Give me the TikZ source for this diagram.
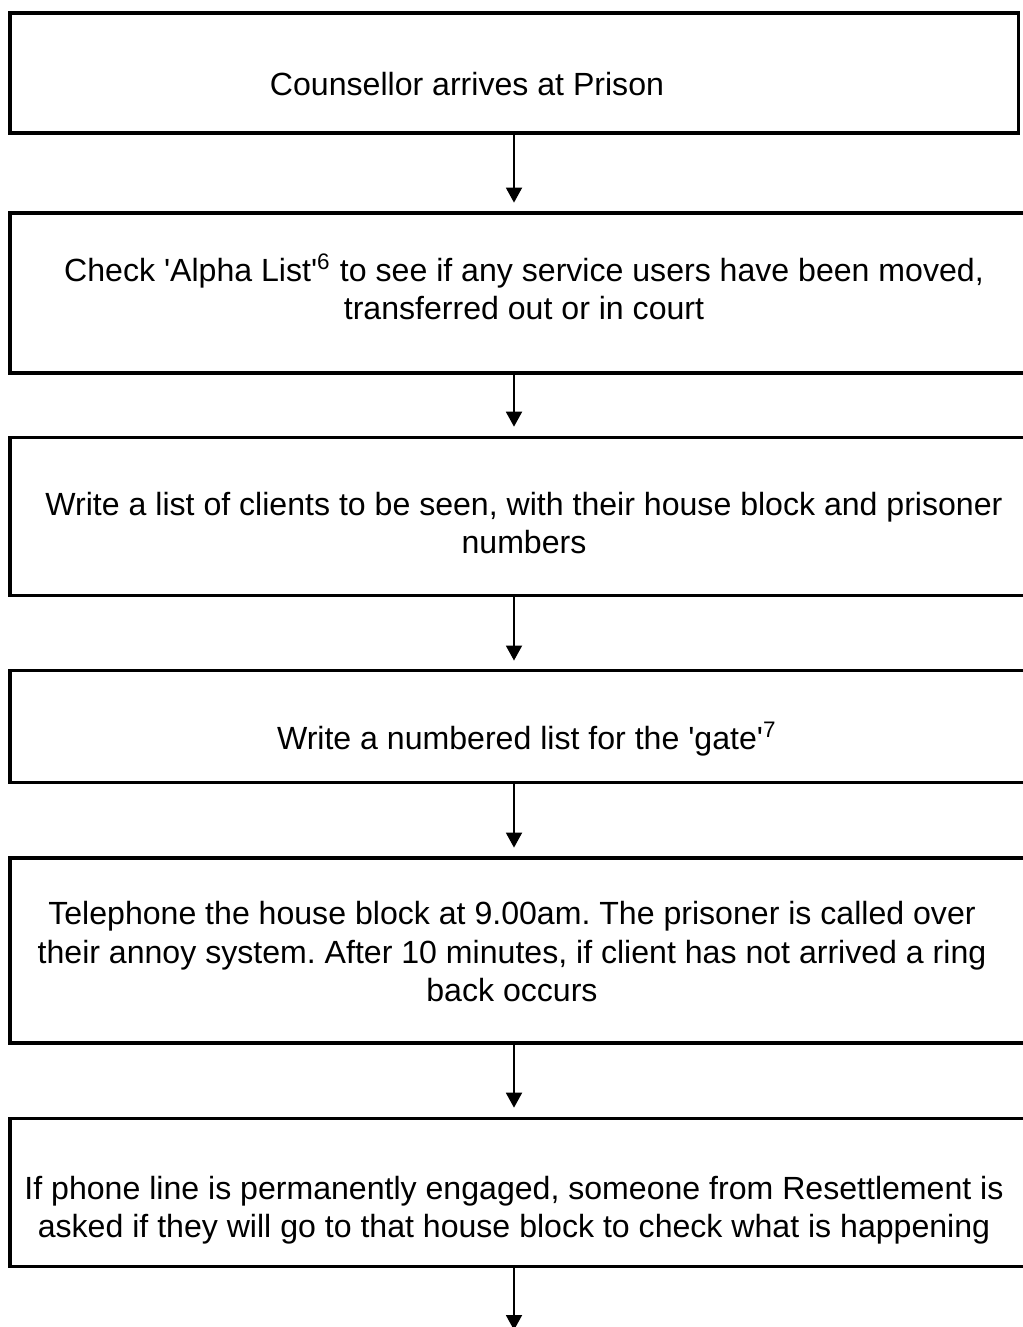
\documentclass[tikz,border=0pt]{standalone}
\usepackage{fontspec}
\setmainfont{Liberation Sans}
\usepackage{tikz}
\usetikzlibrary{shapes.geometric, arrows.meta}
\frenchspacing
\tikzstyle{stepbox} = [rectangle, draw=black, line width=1.1pt, minimum width=370.8pt, inner sep=0pt]
\tikzstyle{steptext} = [align=center, inner sep=0pt, font=\fontsize{11.55}{13.86}\selectfont]
\tikzstyle{arrow} = [line width=0.54pt, -{Triangle[width=5.8pt, length=5.4pt]}, shorten >=3.2pt]

\begin{document}
\begin{tikzpicture}[x=0.36pt, y=-0.36pt]

\clip (0,0) rectangle (1023,1327);

\node (b1) [stepbox, minimum width=362.9pt, minimum height=43.2pt] at (514,73) {};
\node (t1) [steptext] at (467,84) {Counsellor arrives at Prison};

\node (b2) [stepbox, minimum height=57.6pt] at (525,293) {};
\node (t2) [steptext] at (524,287) {Check \textquotesingle Alpha List\textquotesingle\textsuperscript{6} to see if any service users have been moved,\\transferred out or in court};

\node (b3) [stepbox, minimum height=57.2pt] at (525,516.5) {};
\node (t3) [steptext] at (524,523) {Write a list of clients to be seen, with their house block and prisoner\\numbers};

\node (b4) [stepbox, minimum height=40pt] at (525,726.5) {};
\node (t4) [steptext] at (527,739) {Write a numbered list for the \textquotesingle gate\textquotesingle\textsuperscript{7}};

\node (b5) [stepbox, minimum height=66.6pt] at (525,950.5) {};
\node (t5) [steptext] at (512,952) {Telephone the house block at 9.00am. The prisoner is called over\\their annoy system. After 10 minutes, if client has not arrived a ring\\back occurs};

\node (b6) [stepbox, minimum height=53.6pt] at (525,1192.5) {};
\node (t6) [steptext] at (514,1210) {If phone line is permanently engaged, someone from Resettlement is\\asked if they will go to that house block to check what is happening};

\coordinate (next) at (514,1330);

\draw [arrow] (b1.south) -- (b1.south |- b2.north);
\draw [arrow] (b1.south |- b2.south) -- (b1.south |- b3.north);
\draw [arrow] (b1.south |- b3.south) -- (b1.south |- b4.north);
\draw [arrow] (b1.south |- b4.south) -- (b1.south |- b5.north);
\draw [arrow] (b1.south |- b5.south) -- (b1.south |- b6.north);
\draw [arrow, shorten >=0pt] (b1.south |- b6.south) -- (next);

\end{tikzpicture}
\end{document}
